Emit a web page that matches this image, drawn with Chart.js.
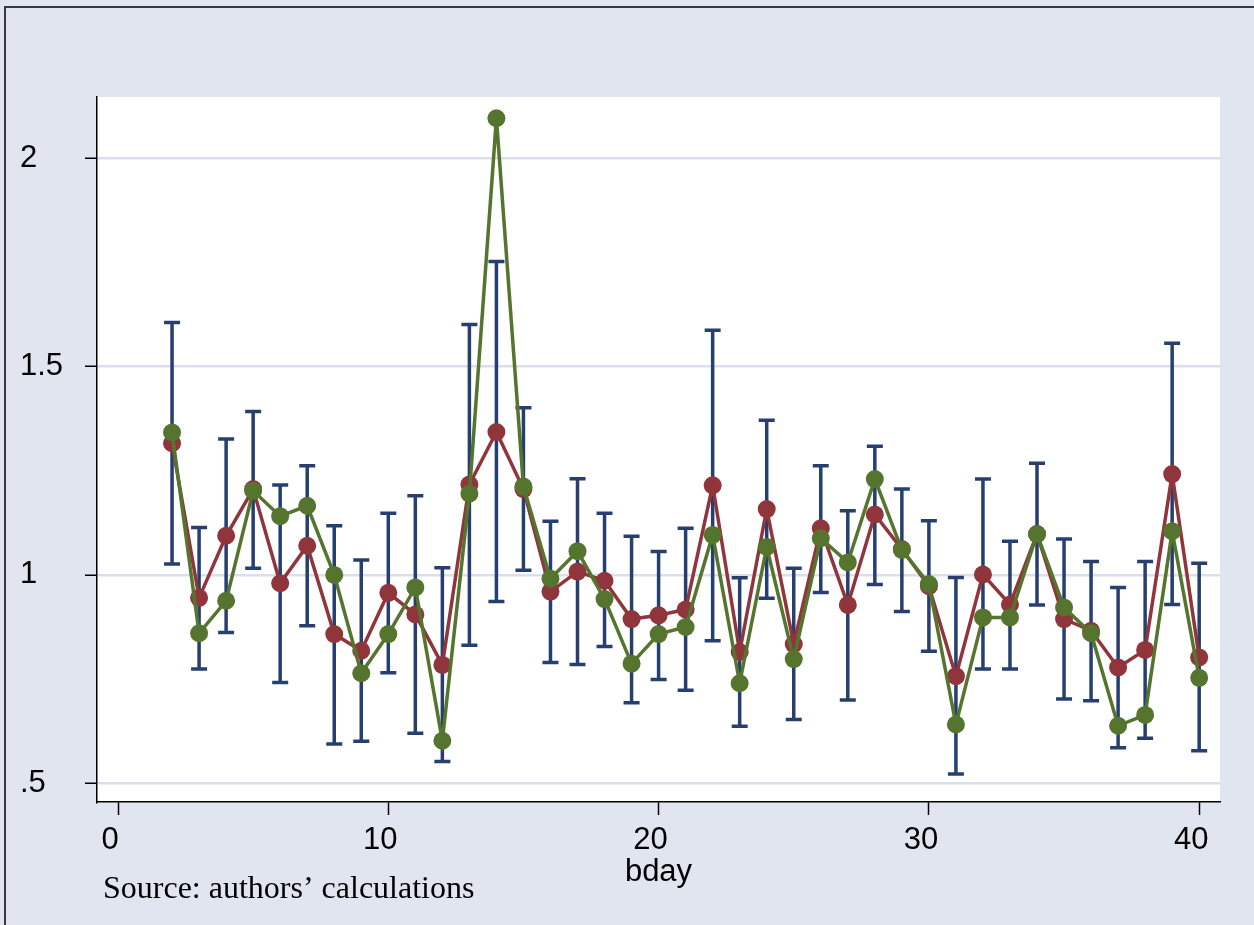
<!DOCTYPE html>
<html>
<head>
<meta charset="utf-8">
<title>bday</title>
<script src="https://cdn.jsdelivr.net/npm/chart.js@4.4.1/dist/chart.umd.min.js"></script>
<style>
  html, body { margin:0; padding:0; background:#e1e5f0; }
  #wrap { position:relative; width:1254px; height:925px; }
</style>
</head>
<body>
<div id="wrap"><canvas id="bdayChart" width="1254" height="925"></canvas></div>
<script>
// business day of the month
const days = [2, 3, 4, 5, 6, 7, 8, 9, 10, 11, 12, 13, 14, 15, 16, 17, 18, 19, 20, 21,
  22, 23, 24, 25, 26, 27, 28, 29, 30, 31, 32, 33, 34, 35, 36, 37, 38, 39, 40];

// maroon series
const redVals = [1.316, 0.945, 1.094, 1.206, 0.980, 1.070, 0.858, 0.818, 0.957, 0.905,
  0.784, 1.217, 1.343, 1.206, 0.960, 1.008, 0.986, 0.894, 0.903, 0.917,
  1.215, 0.815, 1.158, 0.834, 1.112, 0.928, 1.145, 1.062, 0.973, 0.757,
  1.001, 0.929, 1.098, 0.894, 0.866, 0.778, 0.820, 1.242, 0.802];

// green series
const greenVals = [1.342, 0.860, 0.938, 1.202, 1.141, 1.166, 1.000, 0.764, 0.858, 0.970,
  0.602, 1.195, 2.096, 1.212, 0.991, 1.057, 0.942, 0.787, 0.858, 0.875,
  1.096, 0.740, 1.067, 0.798, 1.088, 1.030, 1.230, 1.060, 0.978, 0.641,
  0.898, 0.898, 1.098, 0.922, 0.860, 0.638, 0.664, 1.105, 0.753];

// confidence interval bounds
const ciHigh = [1.606, 1.114, 1.326, 1.392, 1.216, 1.262, 1.118, 1.036, 1.148, 1.190,
  1.017, 1.601, 1.752, 1.401, 1.129, 1.231, 1.148, 1.093, 1.056, 1.112,
  1.587, 0.993, 1.371, 1.016, 1.262, 1.154, 1.309, 1.206, 1.130, 0.994,
  1.230, 1.081, 1.268, 1.086, 1.032, 0.970, 1.032, 1.556, 1.028];
const ciLow = [1.026, 0.774, 0.862, 1.016, 0.742, 0.878, 0.594, 0.601, 0.765, 0.620,
  0.552, 0.831, 0.936, 1.011, 0.790, 0.785, 0.828, 0.693, 0.749, 0.723,
  0.842, 0.637, 0.944, 0.653, 0.958, 0.700, 0.977, 0.912, 0.817, 0.522,
  0.774, 0.774, 0.928, 0.702, 0.698, 0.585, 0.608, 0.929, 0.578];

// tick labels
const xTicks = [0, 10, 20, 30, 40];
const yTicks = [0.5, 1, 1.5, 2];
const yTickLabels = ['.5', '1', '1.5', '2'];

const NAVY = '#263f70';
const MAROON = '#90353b';
const FOREST = '#55752f';
const BG = '#e1e5f0';
const SANS = '"Liberation Sans", Arial, sans-serif';

// background, outer frame and white plot region
const backdropPlugin = {
  id: 'backdrop',
  beforeDraw(chart) {
    const { ctx, chartArea: a } = chart;
    ctx.save();
    ctx.fillStyle = BG;
    ctx.fillRect(0, 0, chart.width, chart.height);
    ctx.strokeStyle = '#3a3a3a';
    ctx.lineWidth = 2;
    ctx.beginPath();
    ctx.moveTo(5, chart.height);
    ctx.lineTo(5, 7);
    ctx.lineTo(chart.width, 7);
    ctx.stroke();
    ctx.fillStyle = '#ffffff';
    ctx.fillRect(a.left, a.top, a.right - a.left, a.bottom - a.top);
    ctx.restore();
  }
};

// capped CI spikes, drawn behind the lines
const ciPlugin = {
  id: 'ciBars',
  beforeDatasetsDraw(chart) {
    const { ctx, scales: { x, y } } = chart;
    ctx.save();
    ctx.strokeStyle = NAVY;
    ctx.lineWidth = 3.5;
    days.forEach((d, i) => {
      const px = x.getPixelForValue(d);
      const top = y.getPixelForValue(ciHigh[i]);
      const bot = y.getPixelForValue(ciLow[i]);
      ctx.beginPath();
      ctx.moveTo(px, top); ctx.lineTo(px, bot);
      ctx.moveTo(px - 8, top); ctx.lineTo(px + 8, top);
      ctx.moveTo(px - 8, bot); ctx.lineTo(px + 8, bot);
      ctx.stroke();
    });
    ctx.restore();
  }
};

// note under the plot
const notePlugin = {
  id: 'note',
  afterDraw(chart) {
    const ctx = chart.ctx;
    ctx.save();
    ctx.fillStyle = '#000';
    ctx.font = '32px "Liberation Serif", "Times New Roman", serif';
    ctx.textAlign = 'left';
    ctx.textBaseline = 'alphabetic';
    ctx.fillText('Source: authors\u2019 calculations', 103, 898);
    ctx.restore();
  }
};

const series = (label, vals, color, order) => ({
  label: label,
  data: days.map((d, i) => ({ x: d, y: vals[i] })),
  borderColor: color,
  backgroundColor: color,
  borderWidth: 3.5,
  pointRadius: 9,
  pointBorderWidth: 0,
  pointBackgroundColor: color,
  tension: 0,
  order: order
});

new Chart(document.getElementById('bdayChart'), {
  type: 'line',
  data: {
    datasets: [
      series('red', redVals, MAROON, 2),
      series('green', greenVals, FOREST, 1)
    ]
  },
  options: {
    responsive: false,
    devicePixelRatio: 1,
    animation: false,
    layout: { padding: { left: 20, top: 97, right: 34, bottom: 0 } },
    plugins: { legend: { display: false }, tooltip: { enabled: false } },
    scales: {
      x: {
        type: 'linear',
        min: -0.777,
        max: 40.77,
        afterBuildTicks: s => { s.ticks = xTicks.map(v => ({ value: v })); },
        afterFit: s => { s.height = 123; },
        grid: { drawOnChartArea: false, drawTicks: true, tickLength: 13, tickColor: '#000', tickWidth: 1.5 },
        border: { display: true, color: '#000', width: 1.5 },
        ticks: {
          color: '#000',
          font: { family: SANS, size: 31 },
          padding: 7,
          labelOffset: -8,
          maxRotation: 0,
          callback: v => String(v)
        },
        title: {
          display: true,
          text: 'bday',
          color: '#000',
          font: { family: SANS, size: 31 },
          padding: { top: 0, bottom: 34 }
        }
      },
      y: {
        min: 0.455,
        max: 2.147,
        afterBuildTicks: s => { s.ticks = yTicks.map(v => ({ value: v })); },
        afterFit: s => { s.width = 77; },
        grid: { color: '#d9dfec', lineWidth: 2.5, drawTicks: true, tickLength: 12, tickColor: '#000', tickWidth: 1.5 },
        border: { display: true, color: '#000', width: 1.5 },
        ticks: {
          color: '#000',
          font: { family: SANS, size: 31 },
          crossAlign: 'far',
          callback: v => yTickLabels[yTicks.indexOf(v)]
        }
      }
    }
  },
  plugins: [backdropPlugin, ciPlugin, notePlugin]
});
</script>
</body>
</html>
